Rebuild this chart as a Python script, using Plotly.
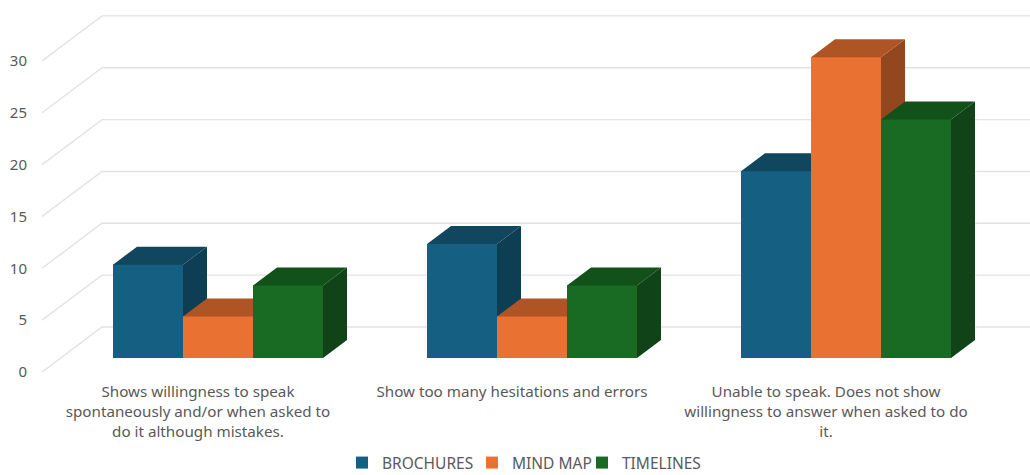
import plotly.graph_objects as go

categories = [
    "Shows willingness to speak<br>spontaneously and/or when asked to<br>do it although mistakes.",
    "Show too many hesitations and errors",
    "Unable to speak. Does not show<br>willingness to answer when asked to do<br>it.",
]
brochures = [9, 11, 18]
mind_map = [4, 4, 29]
timelines = [7, 7, 23]
series_names = ["BROCHURES", "MIND MAP", "TIMELINES"]
y_ticks = [0, 5, 10, 15, 20, 25, 30]

front_colors = ["#156082", "#E97132", "#196B24"]
top_colors = ["#10475F", "#AF5525", "#13511B"]
side_colors = ["#0D3E54", "#93471F", "#104317"]
TEXT = "#595959"
GRID = "#E2E2E2"
FONT = "Noto Sans"

W, H = 1030, 475
PX_X = 314.0      # pixels per category
PX_Y = 10.37      # pixels per value unit
LEFT, AXIS_BOTTOM, TOP = 42, 372, 4
X0_PX = 198       # pixel of first category centre

to_x = lambda p: p / PX_X
to_y = lambda p: p / PX_Y
bar_w = to_x(70)
wall_dx, wall_dy = to_x(60), to_y(45)
floor_dx, floor_dy = to_x(20), to_y(14)
depth_dx, depth_dy = to_x(24), to_y(18)
seam_x, seam_y = to_x(1), to_y(1)  # faces tuck under the front of the bar

x_min = (LEFT - X0_PX) / PX_X
x_max = (W - X0_PX) / PX_X
y_max = (AXIS_BOTTOM - TOP) / PX_Y

legend_keys = ["legend", "legend2", "legend3"]
legend_text_px = [382, 512, 622]

fig = go.Figure()

# walls
for t in y_ticks:
    fig.add_trace(go.Scatter(
        x=[x_min, x_min + wall_dx, x_max + wall_dx],
        y=[t, t + wall_dy, t + wall_dy],
        mode="lines", line=dict(color=GRID, width=1.4),
        showlegend=False, hoverinfo="skip", zorder=-1,
    ))

all_series = [brochures, mind_map, timelines]
for i, vals in enumerate(all_series):
    centers = [c + floor_dx + (i - 1) * bar_w for c in range(len(vals))]
    for cx, v in zip(centers, vals):
        xl, xr = cx - bar_w / 2, cx + bar_w / 2
        yb, yt = floor_dy, floor_dy + v
        fig.add_trace(go.Scatter(
            x=[xr - seam_x, xr, xr + depth_dx, xr + depth_dx, xr, xr - seam_x, xr - seam_x],
            y=[yb, yb, yb + depth_dy, yt + depth_dy, yt, yt, yb],
            mode="lines", line=dict(width=0), fill="toself",
            fillcolor=side_colors[i], showlegend=False, hoverinfo="skip",
            zorder=2 * i,
        ))
        fig.add_trace(go.Scatter(
            x=[xl, xl, xl + depth_dx, xr + depth_dx, xr, xr, xl],
            y=[yt - seam_y, yt, yt + depth_dy, yt + depth_dy, yt, yt - seam_y, yt - seam_y],
            mode="lines", line=dict(width=0), fill="toself",
            fillcolor=top_colors[i], showlegend=False, hoverinfo="skip",
            zorder=2 * i,
        ))
    fig.add_trace(go.Bar(
        x=centers, y=vals, base=floor_dy, width=bar_w, name=series_names[i],
        marker=dict(color=front_colors[i], line=dict(width=0)),
        zorder=2 * i + 1, legend=legend_keys[i],
    ))

legend_layout = {
    key: dict(
        orientation="h", xref="container", yref="container",
        x=(px - 40) / W, xanchor="left", y=(H - 463) / H, yanchor="middle",
        font=dict(family=FONT, size=15.5, color=TEXT), itemwidth=30,
        bgcolor="rgba(0,0,0,0)",
    )
    for key, px in zip(legend_keys, legend_text_px)
}

fig.update_layout(
    width=W, height=H, autosize=False,
    margin=dict(l=LEFT, r=0, t=TOP, b=H - AXIS_BOTTOM, pad=0, autoexpand=False),
    paper_bgcolor="white", plot_bgcolor="white",
    font=dict(family=FONT, size=14, color=TEXT),
    barmode="overlay",
    xaxis=dict(
        range=[x_min, x_max], tickmode="array", tickvals=list(range(len(categories))),
        ticktext=categories, showgrid=False, zeroline=False, showline=False,
        ticks="outside", ticklen=6, tickcolor="rgba(0,0,0,0)", tickangle=0,
        tickfont=dict(family=FONT, size=15.2, color=TEXT),
    ),
    yaxis=dict(
        range=[0, y_max], tickmode="array", tickvals=y_ticks,
        showgrid=False, zeroline=False, showline=False,
        ticks="outside", ticklen=11, tickcolor="rgba(0,0,0,0)",
        tickfont=dict(family=FONT, size=15, color=TEXT),
    ),
    **legend_layout,
)

fig.write_html(
    "out.html",
    config={"displayModeBar": False},
    post_script="document.body.style.margin='0';document.body.style.overflow='hidden';",
)
